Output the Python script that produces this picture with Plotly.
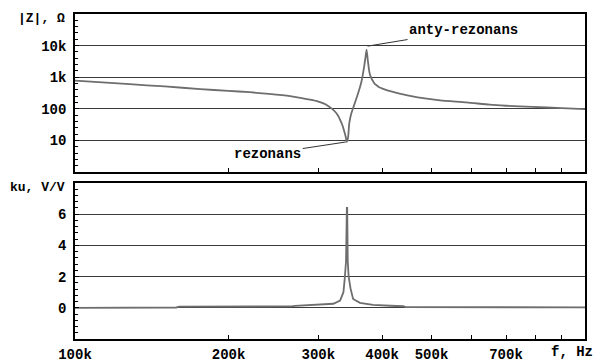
import math
import plotly.graph_objects as go
from plotly.subplots import make_subplots

# |Z| curve (frequency in kHz, impedance in ohm)
f_z_khz = [100, 128, 150, 176, 200, 220, 240, 264, 280, 289, 300, 307, 312, 318, 325, 328,
           331, 334, 336, 338, 339.5, 341, 343, 345, 348,
           351, 355, 359, 362, 365, 367, 369, 371, 373, 375, 376, 377, 378, 379, 381, 383,
           385, 387, 390, 395, 402,
           415, 433, 470, 520, 586, 650, 700, 790, 900, 1000]
z_ohm = [780, 600, 510, 420, 370, 335, 295, 250, 215, 195, 170, 148, 130, 105, 75, 60,
         45, 32, 24, 17, 13, 9, 12, 35, 70,
         105, 180, 310, 480, 800, 1300, 2200, 4000, 7500, 3500, 2500, 1800, 1400, 1170, 950, 800,
         700, 620, 560, 480, 430,
         360, 300, 230, 185, 160, 135, 125, 115, 105, 98]

# ku curve (frequency in kHz, gain V/V)
f_ku_khz = [100, 130, 158, 160, 200, 250, 266, 270, 298, 321, 331, 336, 338, 340, 341.2,
            341.8, 342.6, 344, 347, 351, 362, 384, 415, 440, 445, 600, 800, 1000]
ku_vals = [0.0, 0.0, 0.02, 0.07, 0.07, 0.08, 0.09, 0.12, 0.19, 0.26, 0.47, 1.0, 1.87, 3.0, 6.4,
           6.4, 3.0, 2.0, 1.23, 0.57, 0.32, 0.19, 0.13, 0.1, 0.04, 0.04, 0.03, 0.03]

x_tick_vals = [100e3, 200e3, 300e3, 400e3, 500e3, 600e3, 700e3, 800e3, 900e3]
x_tick_text = ["100k", "200k", "300k", "400k", "500k", "", "700k", "", ""]
z_tick_vals = [10, 100, 1000, 10000]
z_tick_text = ["10", "100", "1k", "10k"]
ku_tick_vals = [0, 2, 4, 6]
ku_tick_text = ["0", "2", "4", "6"]

FONT = "Liberation Mono"
curve_color = "#6e6e6e"
grid_color = "#3a3a3a"

fig = make_subplots(rows=2, cols=1, shared_xaxes=False, vertical_spacing=0.034)

fig.add_trace(go.Scatter(x=[f * 1e3 for f in f_z_khz], y=z_ohm, mode="lines",
                         line=dict(color=curve_color, width=1.8, shape="spline", smoothing=0.6),
                         showlegend=False),
              row=1, col=1)
fig.add_trace(go.Scatter(x=[f * 1e3 for f in f_ku_khz], y=ku_vals, mode="lines",
                         line=dict(color=curve_color, width=1.8), showlegend=False),
              row=2, col=1)

tickfont = dict(family=FONT, size=14, color="black", weight=700)

common_x = dict(type="log", range=[5, 6], tickvals=x_tick_vals, ticktext=x_tick_text,
                showgrid=False, showline=True, linecolor="black", linewidth=1.5, mirror=True,
                ticks="inside", ticklen=4, tickcolor="black", tickfont=tickfont, zeroline=False,
                automargin=False, ticklabelstandoff=1)
fig.update_xaxes(**common_x)
fig.update_xaxes(showticklabels=False, row=1, col=1)
fig.update_xaxes(showticklabels=True, row=2, col=1)

minor_log = [10 ** (k / 5) for k in range(0, 26)]
minor_lin = [-2 + 0.4 * k for k in range(0, 26)]

fig.update_yaxes(type="log", range=[0, 5], tickvals=z_tick_vals, ticktext=z_tick_text,
                 showgrid=True, gridcolor=grid_color, gridwidth=1, automargin=False,
                 showline=True, linecolor="black", linewidth=1.5, mirror=True,
                 ticks="inside", ticklen=4, tickcolor="black", tickfont=tickfont,
                 ticklabelstandoff=4,
                 minor=dict(tickvals=minor_log, ticks="inside", ticklen=3, tickcolor="black",
                            showgrid=False),
                 row=1, col=1)
fig.update_yaxes(range=[-2, 8], tickvals=ku_tick_vals, ticktext=ku_tick_text,
                 showgrid=True, gridcolor=grid_color, gridwidth=1, zeroline=False,
                 automargin=False,
                 showline=True, linecolor="black", linewidth=1.5, mirror=True,
                 ticks="inside", ticklen=4, tickcolor="black", tickfont=tickfont,
                 ticklabelstandoff=4,
                 minor=dict(tickvals=minor_lin, ticks="inside", ticklen=3, tickcolor="black",
                            showgrid=False),
                 row=2, col=1)

fig.update_layout(
    width=606, height=363,
    margin=dict(l=75, r=21, t=14, b=24, autoexpand=False),
    paper_bgcolor="white", plot_bgcolor="white",
    font=dict(family=FONT, color="black"),
)
fig.update_layout(yaxis=dict(domain=[0.5138, 1.0]), yaxis2=dict(domain=[0.0, 0.48]))

labfont = dict(family=FONT, size=13, color="black", weight=700)
annfont = dict(family=FONT, size=14, color="black", weight=700)

fig.add_annotation(text="|Z|, \u03a9", xref="paper", yref="paper", x=-0.016, y=1.0,
                   xanchor="right", yanchor="middle", showarrow=False, font=labfont, yshift=-4)
fig.add_annotation(text="ku, V/V", xref="paper", yref="paper", x=-0.016, y=0.48,
                   xanchor="right", yanchor="middle", showarrow=False, font=labfont, yshift=-4)
fig.add_annotation(text="f, Hz", xref="paper", yref="paper", x=1.02, y=0,
                   xanchor="right", yanchor="top", showarrow=False, font=annfont, yshift=-3)

fig.add_annotation(text="rezonans", xref="x", yref="y", x=math.log10(341e3), y=math.log10(9),
                   ax=-79, ay=12, showarrow=True, arrowhead=0, arrowwidth=1, arrowcolor="#333",
                   font=annfont, standoff=1)
fig.add_annotation(text="anty-rezonans", xref="x", yref="y", x=math.log10(373e3),
                   y=math.log10(9500), ax=97, ay=-16, showarrow=True, arrowhead=0, arrowwidth=1,
                   arrowcolor="#333", font=annfont, standoff=1)

fig.write_html("out.html")
